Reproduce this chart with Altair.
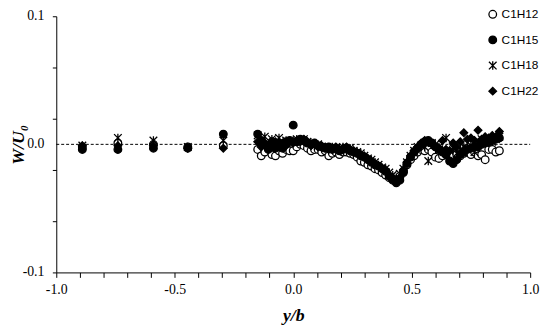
import altair as alt
import pandas as pd

series_names = ["C1H12", "C1H15", "C1H18", "C1H22"]

x_sparse = [-0.89, -0.74, -0.59, -0.445, -0.295]
x_dense = [-0.150, -0.135, -0.120, -0.105, -0.090, -0.075, -0.060, -0.045, -0.030, -0.015,
           0.000, 0.015, 0.030, 0.045, 0.060, 0.075, 0.090, 0.105, 0.120, 0.135,
           0.150, 0.165, 0.180, 0.195, 0.210, 0.225, 0.240, 0.255, 0.270, 0.285,
           0.300, 0.315, 0.330, 0.345, 0.360, 0.375, 0.390, 0.405, 0.420, 0.435,
           0.450, 0.465, 0.480, 0.495, 0.510, 0.525, 0.540, 0.555, 0.570, 0.585,
           0.600, 0.615, 0.630, 0.645, 0.660, 0.675, 0.690, 0.705, 0.720, 0.735,
           0.750, 0.765, 0.780, 0.795, 0.810, 0.825, 0.840, 0.855, 0.870]

c1h12 = [-0.002, 0.001, 0.000, -0.002, -0.001,
         -0.004, -0.009, -0.006, -0.003, -0.008, -0.009, -0.005, -0.007, -0.004, -0.005,
         -0.005, -0.002, 0.000, -0.001, -0.003, -0.005, -0.004, -0.004, -0.006, -0.005,
         -0.009, -0.007, -0.006, -0.008, -0.006, -0.006, -0.007, -0.008, -0.010, -0.013,
         -0.014, -0.016, -0.017, -0.019, -0.020, -0.022, -0.024, -0.026, -0.027, -0.028,
         -0.025, -0.021, -0.016, -0.012, -0.009, -0.006, -0.004, -0.005, -0.004, -0.006,
         -0.010, -0.011, -0.009, -0.008, -0.010, -0.009, -0.008, -0.009, -0.007, -0.006,
         -0.008, -0.006, -0.009, -0.008, -0.012, -0.004, -0.004, -0.006, -0.005]

c1h15 = [-0.004, -0.004, -0.003, -0.003, 0.008,
         0.008, 0.003, 0.000, -0.004, 0.002, -0.003, 0.001, -0.003, 0.002, 0.003,
         0.015, 0.002, 0.004, 0.003, 0.001, 0.000, 0.001, -0.001, -0.002, -0.003,
         -0.002, -0.004, -0.003, -0.005, -0.004, -0.003, -0.005, -0.006, -0.007, -0.009,
         -0.010, -0.012, -0.014, -0.016, -0.017, -0.019, -0.021, -0.025, -0.028, -0.030,
         -0.028, -0.022, -0.015, -0.010, -0.006, -0.003, 0.000, 0.002, 0.003, 0.001,
         -0.002, -0.004, -0.006, -0.008, -0.013, -0.015, -0.012, -0.008, -0.006, -0.004,
         -0.003, -0.002, -0.002, 0.000, 0.001, 0.002, 0.003, 0.004, 0.005]

c1h18 = [-0.001, 0.005, 0.003, -0.002, 0.003,
         0.007, 0.002, 0.006, -0.001, 0.004, 0.001, 0.005, 0.000, 0.003, 0.001,
         0.003, 0.004, 0.002, 0.004, 0.002, 0.001, -0.001, 0.000, -0.002, -0.003,
         -0.003, -0.002, -0.004, -0.003, -0.002, -0.004, -0.003, -0.005, -0.006, -0.007,
         -0.009, -0.011, -0.012, -0.014, -0.016, -0.018, -0.019, -0.022, -0.024, -0.026,
         -0.023, -0.019, -0.014, -0.009, -0.005, -0.002, -0.001, -0.002, -0.013, 0.001,
         0.000, -0.002, -0.004, 0.005, -0.005, -0.003, -0.007, -0.004, -0.002, -0.003,
         -0.001, -0.006, 0.001, 0.004, 0.001, 0.003, 0.002, 0.004, 0.006]

c1h22 = [-0.001, -0.001, -0.001, -0.003, -0.003,
         0.002, -0.002, 0.001, -0.002, -0.001, 0.002, -0.002, 0.001, -0.001, 0.002,
         0.001, 0.003, 0.002, 0.004, 0.002, -0.001, 0.000, -0.002, -0.001, -0.002,
         -0.004, -0.003, -0.002, -0.004, -0.003, -0.002, -0.004, -0.005, -0.007, -0.008,
         -0.009, -0.011, -0.013, -0.015, -0.017, -0.019, -0.020, -0.024, -0.026, -0.028,
         -0.026, -0.020, -0.014, -0.009, -0.005, -0.002, 0.001, 0.003, 0.002, 0.000,
         -0.002, -0.003, 0.003, -0.004, -0.005, 0.001, -0.002, 0.002, 0.009, 0.004,
         0.005, 0.003, 0.011, 0.004, 0.006, 0.005, 0.007, 0.006, 0.010]

y_label_values = [-0.1, 0.0, 0.1]
y_label_texts = ["-0.1", "0.0", "0.1"]

x_all = x_sparse + x_dense
rows = []
for k, (name, vals) in enumerate(zip(series_names, [c1h12, c1h15, c1h18, c1h22])):
    for xv, yv in zip(x_all, vals):
        rows.append({"series": name, "x": xv, "y": yv, "order": k})
df = pd.DataFrame(rows)

W, H = 481, 260
star_path = "M-1,-1L1,1M1,-1L-1,1M0,-1.1L0,1.1"

x_ticks = [round(-1 + 0.1 * i, 1) for i in range(21)]
y_ticks = [round(-0.1 + 0.02 * i, 2) for i in range(11)]

legend_kw = dict(title=None, orient="none", legendX=437, legendY=-8,
                 labelFont="Liberation Sans", labelFontSize=12, labelColor="black",
                 labelOffset=3, rowPadding=12, padding=0, symbolSize=60,
                 symbolStrokeWidth=1.3)

x_scale = alt.Scale(domain=[-1, 1], nice=False, zero=False)
y_scale = alt.Scale(domain=[-0.1, 0.1], nice=False, zero=False)

points = alt.Chart(df).mark_point(filled=False, size=60, opacity=1,
                                  strokeWidth=1.3, fillOpacity=1, strokeOpacity=1).encode(
    x=alt.X("x:Q", scale=x_scale,
            axis=alt.Axis(values=x_ticks, title="y/b",
                          labelExpr="abs(datum.value*2 - round(datum.value*2)) < 0.001 ? (datum.value < -0.001 ? '-' : '') + format(abs(datum.value), '.1f') : ''")),
    y=alt.Y("y:Q", scale=y_scale,
            axis=alt.Axis(values=y_ticks, title="W/U₀", labels=False)),
    shape=alt.Shape("series:N", scale=alt.Scale(domain=series_names,
                                                range=["circle", "circle", star_path, "diamond"]),
                    legend=alt.Legend(**legend_kw)),
    fill=alt.Fill("series:N", scale=alt.Scale(domain=series_names,
                                              range=["white", "black", "transparent", "black"]),
                  legend=alt.Legend(**legend_kw)),
    stroke=alt.Stroke("series:N", scale=alt.Scale(domain=series_names,
                                                  range=["black", "black", "black", "black"]),
                      legend=alt.Legend(**legend_kw)),
    order=alt.Order("order:Q"),
)

zero_line = alt.Chart(pd.DataFrame({"y": [0.0]})).mark_rule(
    color="black", strokeDash=[3, 2], strokeWidth=1
).encode(y=alt.Y("y:Q", scale=y_scale), x=alt.value(0), x2=alt.value(W))

y_labels = alt.Chart(pd.DataFrame({"v": y_label_values, "t": y_label_texts})).mark_text(
    align="right", baseline="middle", font="Liberation Serif", fontSize=14, color="black"
).encode(y=alt.Y("v:Q", scale=y_scale), x=alt.value(-12), text="t:N")

chart = alt.layer(zero_line, points, y_labels).properties(
    width=W, height=H,
    autosize=alt.AutoSizeParams(type="none"),
    padding={"left": 49, "top": 6, "right": 12, "bottom": 53},
).configure_view(stroke=None).configure_axis(
    domainColor="black", tickColor="black", grid=False,
    labelFont="Liberation Serif", labelFontSize=14, labelColor="black",
    titleFont="Liberation Serif", titleFontSize=18, titleFontStyle="italic",
    titleFontWeight="bold", titleColor="black", labelOverlap=False,
).configure_axisX(
    tickSize=5, labelPadding=5, titlePadding=11, labelFlush=False,
).configure_axisY(
    tickSize=4, titlePadding=25,
)

chart.save("out.html", embed_options={"renderer": "svg", "actions": False})
